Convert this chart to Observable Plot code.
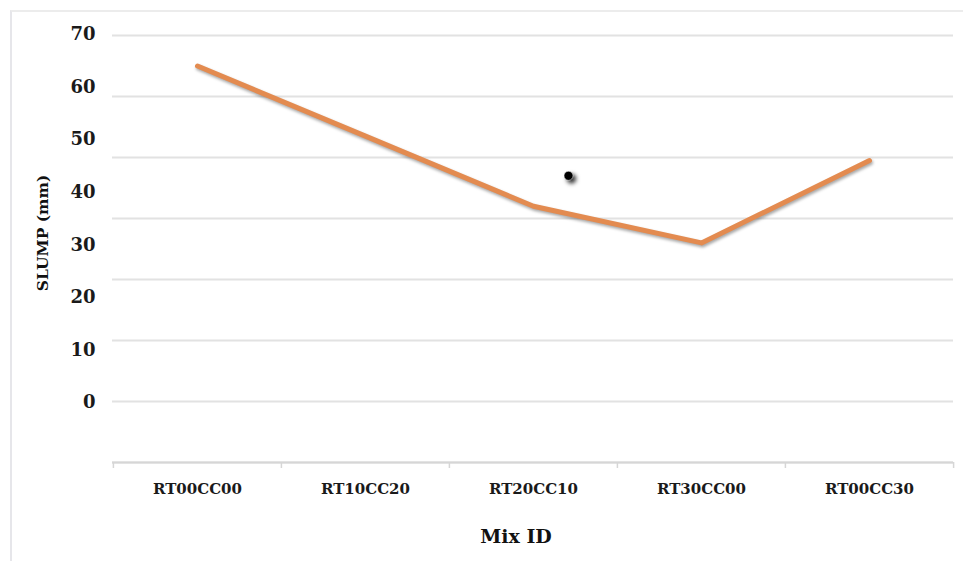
<!DOCTYPE html>
<html>
<head>
<meta charset="utf-8">
<script src="https://cdn.jsdelivr.net/npm/d3@7"></script>
<script src="https://cdn.jsdelivr.net/npm/@observablehq/plot@0.6"></script>
<style>
  html, body { margin: 0; padding: 0; background: #fff; }
  #wrap { position: relative; width: 963px; height: 561px; overflow: hidden; }
  #border { position: absolute; left: 10px; top: 10px; right: -5px; bottom: -5px;
            border-left: 2px solid #e6e6ea; border-top: 2px solid #ececec; }
  #wrap svg { position: absolute; left: 0; top: 0; overflow: visible; }
  .slump-line { filter: drop-shadow(1px 2px 1.5px rgba(0,0,0,0.35)); }
  .stray-dot { filter: drop-shadow(3px 3px 2px rgba(0,0,0,0.8)); }
</style>
</head>
<body>
<div id="wrap"><div id="border"></div></div>
<script>
// categories (Mix ID)
const mixIds = ["RT00CC00", "RT10CC20", "RT20CC10", "RT30CC00", "RT00CC30"];
// slump values (mm)
const slump = [65, 53.5, 42, 36, 49.5];
// stray marker visible in the picture
const strayMix = ["RT20CC10"];
const strayValue = [47];
// y tick labels
const yTicks = [0, 10, 20, 30, 40, 50, 60, 70];

const data = mixIds.map((m, i) => ({mix: m, slump: slump[i]}));
const stray = strayMix.map((m, i) => ({mix: m, slump: strayValue[i]}));
const font = "'DejaVu Serif', 'Liberation Serif', serif";

const main = Plot.plot({
  width: 963,
  height: 561,
  marginLeft: 112,
  marginRight: 10,
  marginTop: 35,
  marginBottom: 99,
  style: {fontFamily: font, fontWeight: "bold", fontSize: "15px", color: "#1a1a1a", background: "transparent"},
  x: {type: "band", domain: mixIds, padding: 0, axis: null},
  y: {domain: [0, 70], axis: null},
  marks: [
    Plot.gridY(yTicks, {stroke: "#e2e2e2", strokeOpacity: 1, strokeWidth: 2}),
    Plot.ruleY([0], {stroke: "#d6d6d6", strokeWidth: 2}),
    Plot.ruleX(mixIds, {x: d => d, dx: -84.1, y1: 0, y2: 0, insetTop: 6, stroke: "#d6d6d6", strokeWidth: 1.5}),
    Plot.ruleX(mixIds.slice(-1), {x: d => d, dx: 84.1, y1: 0, y2: 0, insetTop: 6, stroke: "#d6d6d6", strokeWidth: 1.5}),
    Plot.axisX({tickSize: 0, tickPadding: 21, label: null, fontSize: 15, fontWeight: "bold"}),
    Plot.line(data, {x: "mix", y: "slump", stroke: "#e38b50", strokeWidth: 5, className: "slump-line"}),
    Plot.dot(stray, {x: "mix", y: "slump", dx: 35, r: 4.5, fill: "#000", stroke: "#fff", strokeWidth: 0.5, className: "stray-dot"}),
    Plot.text(["SLUMP (mm)"], {frameAnchor: "left", textAnchor: "middle", rotate: -90, dx: -69, dy: -16,
      fontSize: 15.5, fontWeight: "bold", fill: "#111"}),
    Plot.text(["Mix ID"], {frameAnchor: "bottom", dx: -17, dy: 80,
      fontSize: 19, fontWeight: "bold", fill: "#111"})
  ]
});

const yLabels = Plot.plot({
  width: 110,
  height: 561,
  marginLeft: 100,
  marginRight: 5,
  marginTop: 34,
  marginBottom: 159,
  style: {fontFamily: font, fontWeight: "bold", fontSize: "17px", color: "#1a1a1a", background: "transparent"},
  y: {domain: [0, 70], axis: null},
  marks: [
    Plot.axisY(yTicks, {tickSize: 0, tickPadding: 5, label: null, fontSize: 18, fontWeight: "bold"})
  ]
});

const wrap = document.getElementById("wrap");
wrap.appendChild(main);
wrap.appendChild(yLabels);
</script>
</body>
</html>
